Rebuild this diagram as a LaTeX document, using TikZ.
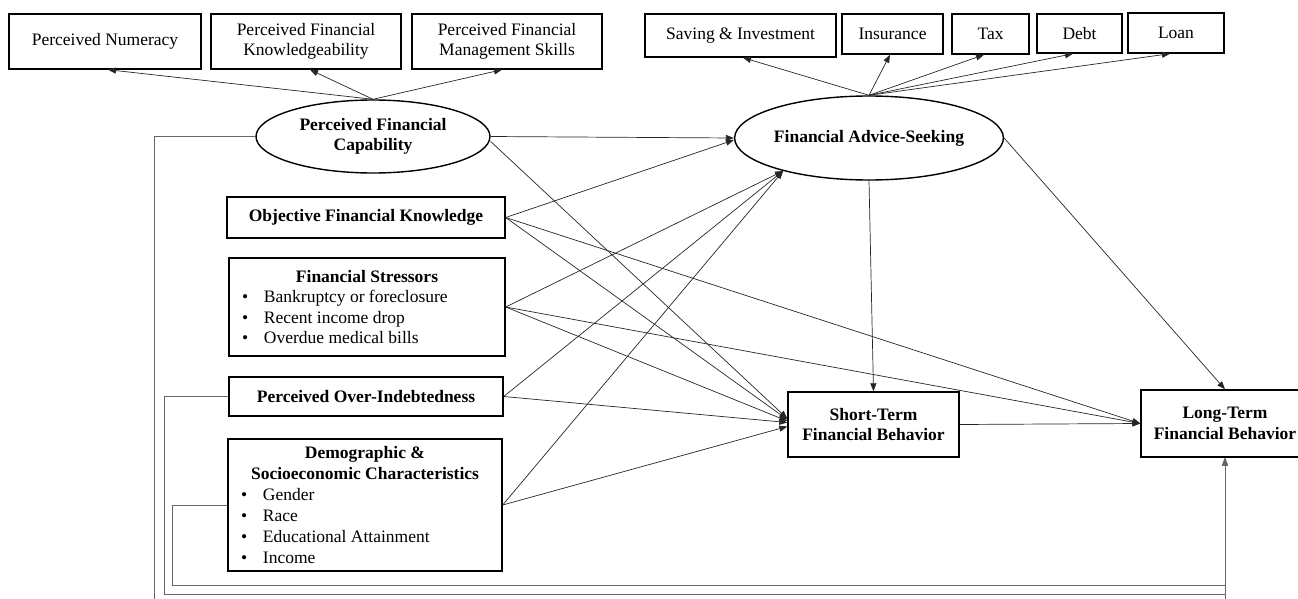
\documentclass[tikz,border=0pt]{standalone}
\usepackage{fontspec}
\setmainfont{Liberation Serif}
\usetikzlibrary{arrows.meta,shapes.geometric,calc}
\newcommand{\bitem}[1]{\par\hspace*{13pt}\makebox[22pt][l]{\textbullet}#1}
\begin{document}
\begin{tikzpicture}[x=1pt,y=-1pt,
  box/.style={draw=black, line width=1.4pt, rectangle, inner sep=0pt, align=center,
    font=\fontsize{17.5}{20.5}\selectfont},
  bbox/.style={box, font=\fontsize{17.5}{20.5}\selectfont\bfseries},
  lat/.style={draw=black, line width=1.4pt, ellipse, inner sep=0pt, align=center,
    font=\fontsize{17.5}{20.5}\selectfont\bfseries},
  arr/.style={draw=black!85, line width=0.7pt, -{Triangle[length=8pt,width=6pt]}},
  elbow/.style={draw=black!60, line width=0.9pt, -{Triangle[length=8pt,width=6pt]}}]
\useasboundingbox (0,0) rectangle (1298,599);

% top indicator boxes
\node[box, minimum width=192, minimum height=55] (num) at (105,41.5) {Perceived Numeracy};
\node[box, minimum width=190, minimum height=55] (know) at (306,41.5) {Perceived Financial\\Knowledgeability};
\node[box, minimum width=190, minimum height=55] (mgmt) at (507,41.5) {Perceived Financial\\Management Skills};
\node[box, minimum width=191, minimum height=43] (sav) at (740.5,35.5) {Saving \& Investment};
\node[box, minimum width=101, minimum height=40] (ins) at (892.5,34) {Insurance};
\node[box, minimum width=77, minimum height=40] (tax) at (990.5,34) {Tax};
\node[box, minimum width=85, minimum height=39] (debt) at (1079.5,33.5) {Debt};
\node[box, minimum width=96, minimum height=40] (loan) at (1176,33) {Loan};

% latent variables
\node[lat, minimum width=234, minimum height=73] (pfc) at (373,136.5) {Perceived Financial\\Capability};
\node[lat, minimum width=224, minimum height=84] (fas) at (869,138) {Financial Advice-Seeking};

% left predictors
\node[bbox, minimum width=278, minimum height=41] (obj) at (366,217.5) {Objective Financial Knowledge};
\node[box, minimum width=276, minimum height=98] (fs) at (367,307) {\begin{minipage}{276pt}
  {\centering\textbf{Financial Stressors}\par}
  \bitem{Bankruptcy or foreclosure}
  \bitem{Recent income drop}
  \bitem{Overdue medical bills}
\end{minipage}};
\node[bbox, minimum width=274, minimum height=39] (poi) at (366,396.5) {Perceived Over-Indebtedness};
\node[box, minimum width=274, minimum height=132] (dem) at (365,505) {\begin{minipage}{274pt}
  \fontsize{17.5}{20.9}\selectfont
  {\centering\textbf{Demographic \&}\\\textbf{Socioeconomic Characteristics}\par}
  \bitem{Gender}
  \bitem{Race}
  \bitem{Educational Attainment}
  \bitem{Income}
\end{minipage}};

% outcomes
\node[bbox, minimum width=171, minimum height=65] (st) at (873.5,424.5) {Short-Term\\Financial Behavior};
\node[bbox, minimum width=168, minimum height=67] (lt) at (1225,423.5) {Long-Term\\Financial Behavior};

% measurement arrows
\draw[arr] (pfc.north) -- ([xshift=3pt]num.south);
\draw[arr] (pfc.north) -- ([xshift=4pt]know.south);
\draw[arr] (pfc.north) -- ([xshift=-5pt]mgmt.south);
\draw[arr] (fas.north) -- ([xshift=2.5pt]sav.south);
\draw[arr] (fas.north) -- ([xshift=-2.5pt]ins.south);
\draw[arr] (fas.north) -- ([xshift=-6.5pt]tax.south);
\draw[arr] (fas.north) -- ([xshift=-6.5pt]debt.south);
\draw[arr] (fas.north) -- ([xshift=-6pt]loan.south);

% structural paths to advice-seeking
\draw[arr] (pfc.east) -- (fas.west);
\draw[arr] (obj.east) -- ([yshift=-2pt]fas.west);
\draw[arr] (fs.east) -- (fas.201);
\draw[arr] (poi.east) -- (fas.201);
\draw[arr] (dem.east) -- (fas.201);

% paths to short-term behaviour
\draw[arr] ([yshift=-5pt]pfc.east) -- ([yshift=6pt]st.west);
\draw[arr] (obj.east) -- ([yshift=5pt]st.west);
\draw[arr] (fs.east) -- ([yshift=3.5pt]st.west);
\draw[arr] (poi.east) -- ([yshift=2pt]st.west);
\draw[arr] (dem.east) -- ([yshift=-2pt]st.west);
\draw[arr] (fas.south) -- (st.north);

% paths to long-term behaviour
\draw[arr] (obj.east) -- (lt.west);
\draw[arr] (fs.east) -- (lt.west);
\draw[arr] (st.east) -- (lt.west);
\draw[arr] (fas.east) -- (lt.north);

% elbow paths along the bottom
\coordinate (b1) at (154,603);
\coordinate (b2) at (164,594);
\coordinate (b3) at (172,585);
\draw[elbow] (pfc.west) -| (b1) -| (lt.south);
\draw[elbow] (poi.west) -| (b2) -| (lt.south);
\draw[elbow] (dem.west) -| (b3) -| (lt.south);
\end{tikzpicture}
\end{document}
